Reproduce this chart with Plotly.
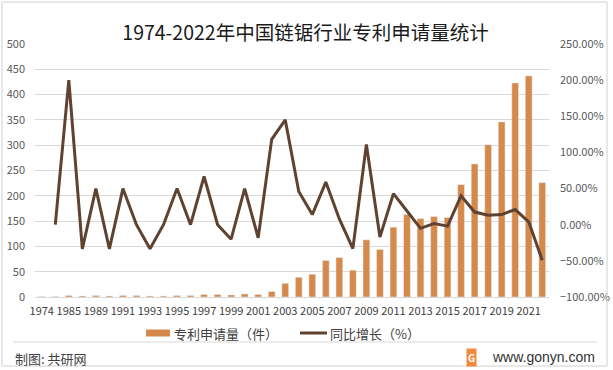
import plotly.graph_objects as go

years = ["1974", "1984", "1985", "1988", "1989", "1990", "1991", "1992", "1993", "1994",
         "1995", "1996", "1997", "1998", "1999", "2000", "2001", "2002", "2003", "2004",
         "2005", "2006", "2007", "2008", "2009", "2010", "2011", "2012", "2013", "2014",
         "2015", "2016", "2017", "2018", "2019", "2020", "2021", "2022"]
patents = [1, 1, 3, 2, 3, 2, 3, 3, 2, 2, 3, 3, 5, 5, 4, 6, 5, 11, 27, 39,
           45, 72, 78, 53, 113, 94, 138, 163, 155, 159, 157, 222, 263, 301, 346, 423, 437, 226]
growth = [None, 0, 200, -33.33, 50, -33.33, 50, 0, -33.33, 0, 50, 0, 66.67, 0, -20, 50, -18,
          118, 145, 46, 14, 59, 8, -33, 111, -17, 43, 19, -5, 1.5, -2, 40, 17.5, 13, 14, 21, 4, -49]
tick_labels = years[0::2]
bar_name = "专利申请量（件）"
line_name = "同比增长（%）"

W, H = 613, 370
L, R, T, B = 35, 64, 44, 73
pw, ph = W - L - R, H - T - B

def px(x):
    return (x - L) / pw

def py(y):
    return (H - B - y) / ph

FONT = "Noto Sans CJK SC, Microsoft YaHei, sans-serif"
BAR_C = "#D58A4C"
LINE_C = "#5F4330"

fig = go.Figure()
fig.add_trace(go.Bar(x=years, y=patents, name=bar_name,
                     marker=dict(color=BAR_C), yaxis="y"))
fig.add_trace(go.Scatter(x=years, y=growth, name=line_name, mode="lines",
                         line=dict(color=LINE_C, width=3), yaxis="y2"))

fig.update_layout(
    width=W, height=H,
    margin=dict(l=L, r=R, t=T, b=B, autoexpand=False),
    paper_bgcolor="white", plot_bgcolor="white",
    font=dict(family=FONT, color="#595959", size=11),
    bargap=0.5,
    showlegend=False,
    title=dict(text="1974-2022年中国链锯行业专利申请量统计", xref="container", x=305.5 / W,
               xanchor="center", yref="container", y=1 - 33 / H, yanchor="middle",
               font=dict(size=19.5, color="#1a1a1a")),
    xaxis=dict(type="category", tickmode="array", tickvals=tick_labels, ticktext=tick_labels,
               showgrid=False, showline=True, linecolor="#d9d9d9", ticks="",
               ticklabelstandoff=4,
               tickfont=dict(size=11, color="#404040"), range=[-0.5, len(years) - 0.5]),
    yaxis=dict(range=[0, 500], dtick=50, showgrid=True, gridcolor="#d9d9d9", gridwidth=1,
               zeroline=False, ticks="", ticklabelstandoff=9,
               tickfont=dict(size=11, color="#595959")),
    yaxis2=dict(range=[-100, 250], dtick=50, overlaying="y", side="right", showgrid=False,
                zeroline=False, ticksuffix="%", tickformat=".2f", ticks="",
                ticklabelstandoff=10,
                tickfont=dict(size=11, color="#595959")),
)

# manual legend
fig.add_shape(type="rect", xref="paper", yref="paper", x0=px(146), x1=px(170),
              y0=py(336.5), y1=py(329.5), fillcolor=BAR_C, line=dict(width=0))
fig.add_annotation(text=bar_name, xref="paper", yref="paper", x=px(172), y=py(333),
                   xanchor="left", yanchor="middle", showarrow=False,
                   font=dict(size=13, color="#404040"))
fig.add_shape(type="line", xref="paper", yref="paper", x0=px(300), x1=px(327),
              y0=py(333), y1=py(333), line=dict(color=LINE_C, width=3))
fig.add_annotation(text=line_name, xref="paper", yref="paper", x=px(328), y=py(333),
                   xanchor="left", yanchor="middle", showarrow=False,
                   font=dict(size=13, color="#404040"))

fig.add_shape(type="line", xref="paper", yref="paper", x0=px(13), x1=px(597),
              y0=py(342), y1=py(342), line=dict(color="#d9d9d9", width=1))
fig.add_shape(type="rect", xref="paper", yref="paper", x0=px(2), x1=px(607),
              y0=py(366), y1=py(2), line=dict(color="#d0d0d0", width=1))
fig.add_annotation(text="制图: 共研网", xref="paper", yref="paper", x=px(13), y=py(358),
                   xanchor="left", yanchor="middle", showarrow=False,
                   font=dict(size=13, color="#404040"))
fig.add_annotation(text="<b>G</b>", xref="paper", yref="paper", x=px(471), y=py(357),
                   xanchor="center", yanchor="middle", showarrow=False, bgcolor="#F08A3C",
                   font=dict(size=10, color="white"), borderpad=1)
fig.add_annotation(text="www.gonyn.com", xref="paper", yref="paper", x=px(597), y=py(357),
                   xanchor="right", yanchor="middle", showarrow=False,
                   font=dict(size=14, color="#333333", family="Arial, Liberation Sans"))

fig.write_html("out.html", config={"displayModeBar": False},
               post_script="document.body.style.margin='0';")
